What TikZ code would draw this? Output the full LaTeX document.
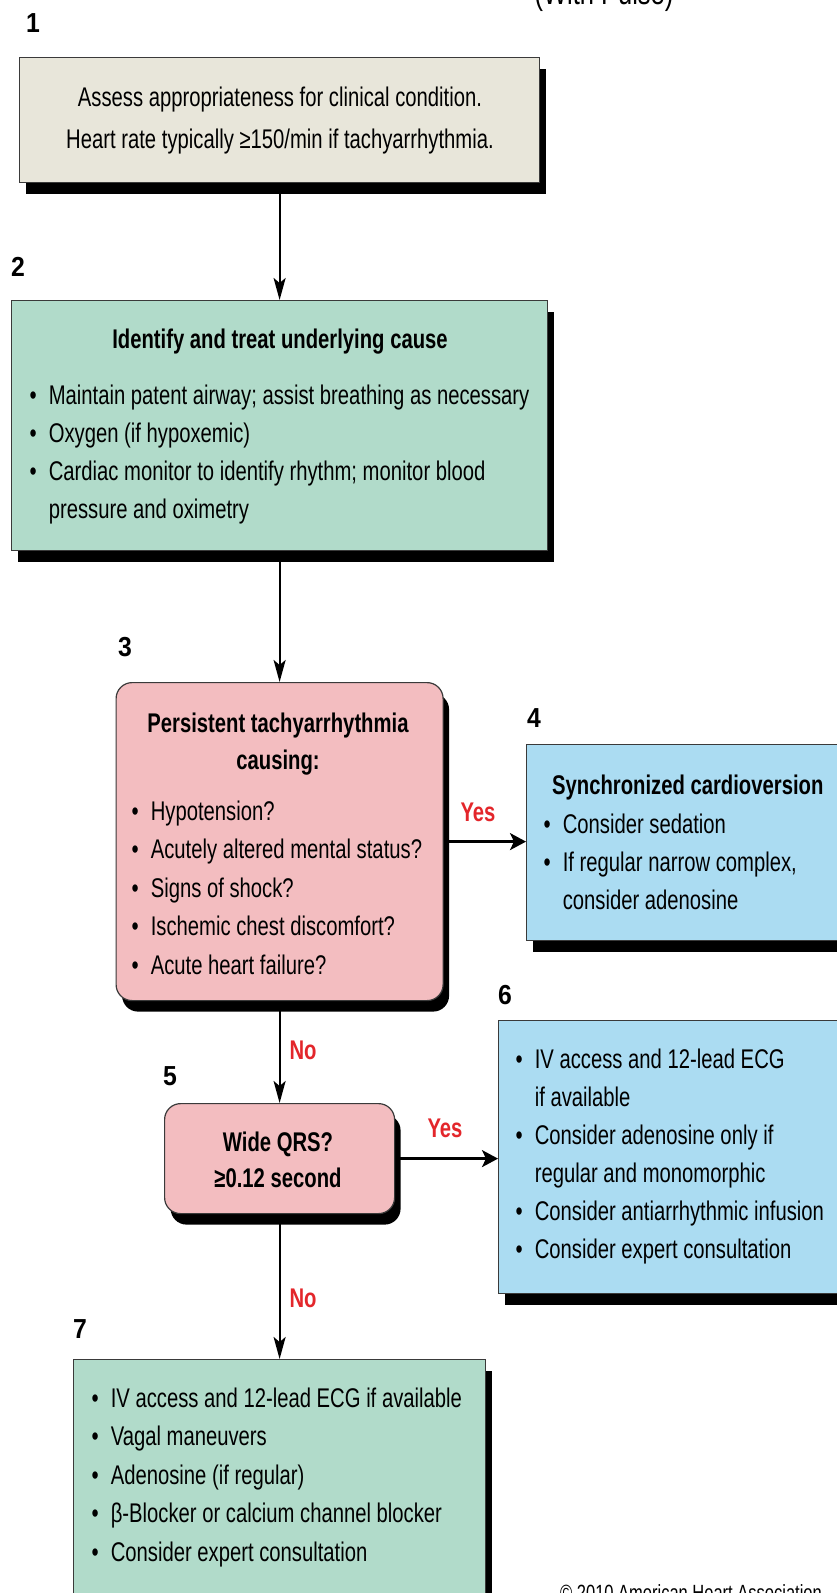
\documentclass[tikz,border=0pt]{standalone}
\usepackage{fontspec}
\setmainfont[FakeStretch=0.75]{Liberation Sans}
\newfontfamily\numfam[FakeStretch=0.9]{Liberation Sans}
\usetikzlibrary{shadows,arrows.meta,backgrounds}
\definecolor{beigebox}{HTML}{E8E6DA}
\definecolor{mintbox}{HTML}{B1DBCA}
\definecolor{pinkbox}{HTML}{F3BDC0}
\definecolor{bluebox}{HTML}{ABDCF2}
\definecolor{boxline}{HTML}{3A3A3A}
\definecolor{answerred}{HTML}{E3262B}
\tikzset{
  panel/.style={draw=boxline, line width=1.2pt, inner sep=0pt, anchor=north west,
    drop shadow={shadow xshift=6pt, shadow yshift=-11pt, fill=black, opacity=1}},
  roundpanel/.style={panel, rounded corners=16pt},
  txt/.style={inner sep=0pt, font=\fontsize{27}{38}\selectfont},
  num/.style={inner sep=0pt, font=\numfam\bfseries\fontsize{27.5}{30}\selectfont},
  answer/.style={inner sep=0pt, text=answerred, font=\bfseries\fontsize{27}{30}\selectfont},
  varr/.style={line width=2.2pt, -{Stealth[length=22pt,width=12pt,inset=5pt]}},
  harr/.style={line width=2.4pt, -{Stealth[length=16pt,width=17pt,inset=4pt]}}
}
\begin{document}
\begin{tikzpicture}[x=1pt,y=-1pt]
\useasboundingbox (0,0) rectangle (837,1593);

% title (cut off)
\node[inner sep=0pt, anchor=base, font=\fontsize{34}{40}\selectfont] (title) at (604,4.5) {(With Pulse)};

% boxes
\node[panel, fill=beigebox, minimum width=520pt, minimum height=125pt] (b1) at (19,57) {};
\node[panel, fill=mintbox, minimum width=536pt, minimum height=250pt] (b2) at (11,300) {};
\node[roundpanel, fill=pinkbox, minimum width=327pt, minimum height=318pt] (b3) at (115.5,682) {};
\node[panel, fill=bluebox, minimum width=319pt, minimum height=196pt] (b4) at (526,744) {};
\node[roundpanel, fill=pinkbox, minimum width=230pt, minimum height=110pt] (b5) at (164,1103) {};
\node[panel, fill=bluebox, minimum width=352pt, minimum height=273pt] (b6) at (498,1020) {};
\node[panel, fill=mintbox, minimum width=412pt, minimum height=251pt] (b7) at (73,1359) {};

% step numbers
\node[num] (n1) at (33,23) {1};
\node[num] (n2) at (18,267) {2};
\node[num] (n3) at (125,647) {3};
\node[num] (n4) at (534,718) {4};
\node[num] (n5) at (170,1076) {5};
\node[num] (n6) at (505,995) {6};
\node[num] (n7) at (80,1329) {7};

% box 1 text
\node[txt, anchor=base] (t1) at (280,106) {\begin{tabular}[t]{@{}c@{}}Assess appropriateness for clinical condition.\\[4pt] Heart rate typically ≥150/min if tachyarrhythmia.\end{tabular}};

% box 2 text
\node[txt, anchor=base, font=\bfseries\fontsize{27}{38}\selectfont] (h2) at (280,348) {Identify and treat underlying cause};
\node[txt, anchor=base west, font=\fontsize{27}{38}\selectfont] (t2) at (29.5,404) {\begin{tabular}[t]{@{}l@{\hspace{12pt}}l@{}}
\textbullet & Maintain patent airway; assist breathing as necessary\\
\textbullet & Oxygen (if hypoxemic)\\
\textbullet & Cardiac monitor to identify rhythm; monitor blood\\
 & pressure and oximetry\end{tabular}};

% box 3 text
\node[txt, anchor=base, font=\bfseries\fontsize{27}{37}\selectfont] (h3) at (278,732) {\begin{tabular}[t]{@{}c@{}}Persistent tachyarrhythmia\\ causing:\end{tabular}};
\node[txt, anchor=base west, font=\fontsize{27}{38.6}\selectfont] (t3) at (131.5,820) {\begin{tabular}[t]{@{}l@{\hspace{12pt}}l@{}}
\textbullet & Hypotension?\\
\textbullet & Acutely altered mental status?\\
\textbullet & Signs of shock?\\
\textbullet & Ischemic chest discomfort?\\
\textbullet & Acute heart failure?\end{tabular}};

% box 4 text
\node[txt, anchor=base west, font=\bfseries\fontsize{27}{38}\selectfont] (h4) at (552,794) {Synchronized cardioversion};
\node[txt, anchor=base west] (t4) at (543.5,833) {\begin{tabular}[t]{@{}l@{\hspace{12pt}}l@{}}
\textbullet & Consider sedation\\
\textbullet & If regular narrow complex,\\
 & consider adenosine\end{tabular}};

% box 5 text
\node[txt, anchor=base, font=\bfseries\fontsize{27}{36}\selectfont] (t5) at (278,1151) {\begin{tabular}[t]{@{}c@{}}Wide QRS?\\ ≥0.12 second\end{tabular}};

% box 6 text
\node[txt, anchor=base west] (t6) at (515.5,1068) {\begin{tabular}[t]{@{}l@{\hspace{12pt}}l@{}}
\textbullet & IV access and 12-lead ECG\\
 & if available\\
\textbullet & Consider adenosine only if\\
 & regular and monomorphic\\
\textbullet & Consider antiarrhythmic infusion\\
\textbullet & Consider expert consultation\end{tabular}};

% box 7 text
\node[txt, anchor=base west, font=\fontsize{27}{38.5}\selectfont] (t7) at (91.5,1407) {\begin{tabular}[t]{@{}l@{\hspace{12pt}}l@{}}
\textbullet & IV access and 12-lead ECG if available\\
\textbullet & Vagal maneuvers\\
\textbullet & Adenosine (if regular)\\
\textbullet & β-Blocker or calcium channel blocker\\
\textbullet & Consider expert consultation\end{tabular}};

% answers
\node[answer] (y34) at (478,812) {Yes};
\node[answer] (n35) at (303,1050) {No};
\node[answer] (y56) at (445,1128) {Yes};
\node[answer] (n57) at (303,1298) {No};

% copyright (cut off)
\node[inner sep=0pt, anchor=base west, font=\fontsize{22}{26}\selectfont] (copy) at (560,1600) {© 2010 American Heart Association};

% connectors
\begin{scope}[on background layer]
\draw[varr] (b1.south) -- (b2.north);
\draw[varr] (b2.south) -- (b3.north);
\draw[harr] (b3.east) -- (b3.east -| b4.west);
\draw[varr] (b3.south) -- (b5.north);
\draw[harr] (b5.east) -- (b5.east -| b6.west);
\draw[varr] (b5.south) -- (b7.north);
\end{scope}
\end{tikzpicture}
\end{document}
